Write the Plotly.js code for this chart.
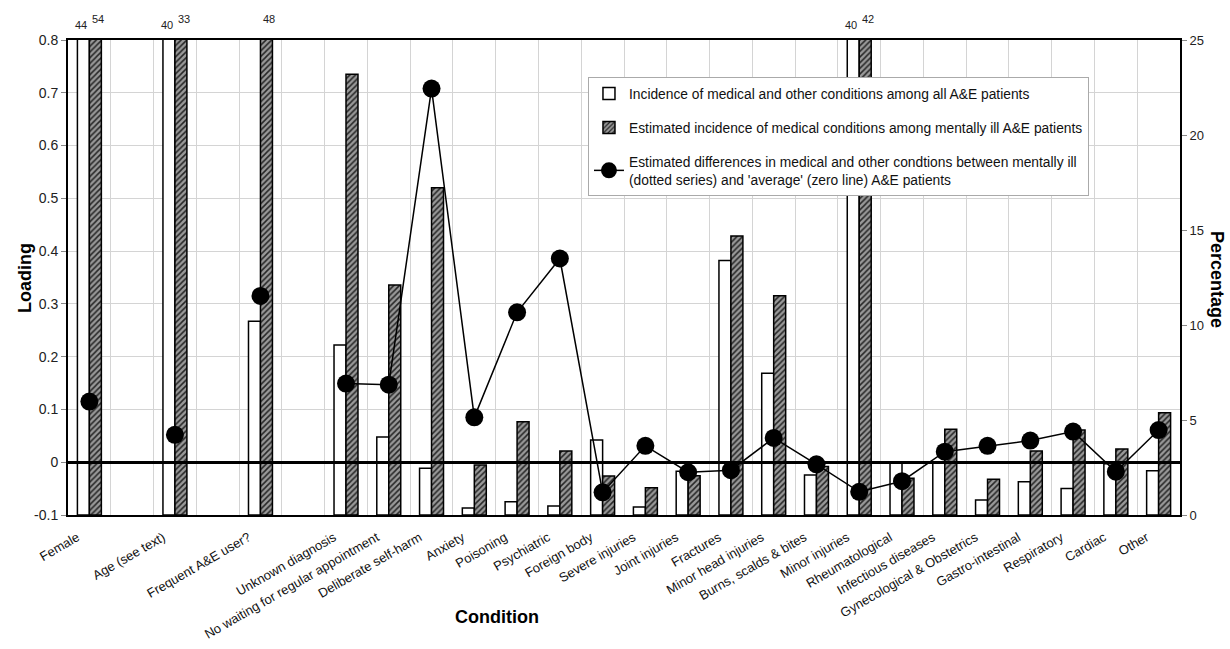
<!DOCTYPE html>
<html>
<head>
<meta charset="utf-8">
<script src="https://cdn.plot.ly/plotly-3.0.1.min.js"></script>
<style>html,body{margin:0;padding:0;background:#fff;}#chart{width:1230px;height:649px;}</style>
</head>
<body>
<div id="chart"></div>
<script>
// Categories (blank slots are empty spacer positions on the axis)
var categories = ["Female", "", "Age (see text)", "", "Frequent A&E user?", "", "Unknown diagnosis",
  "No waiting for regular appointment", "Deliberate self-harm", "Anxiety", "Poisoning", "Psychiatric",
  "Foreign body", "Severe injuries", "Joint injuries", "Fractures", "Minor head injuries",
  "Burns, scalds & bites", "Minor injuries", "Rheumatological", "Infectious diseases",
  "Gynecological & Obstetrics", "Gastro-intestinal", "Respiratory", "Cardiac", "Other"];

// Percentage: incidence among all A&E patients (white bars)
var allPatients = [44, null, 40, null, 10.2, null, 8.95, 4.1, 2.46, 0.37, 0.70, 0.47,
  3.95, 0.42, 2.3, 13.4, 7.46, 2.1, 40, 2.75, 2.8, 0.79, 1.75, 1.4, 2.7, 2.33];

// Percentage: estimated incidence among mentally ill A&E patients (hatched bars)
var mentallyIll = [54, null, 33, null, 48, null, 23.2, 12.1, 17.23, 2.63, 4.91, 3.37,
  2.05, 1.44, 2.07, 14.68, 11.54, 2.55, 42, 1.93, 4.51, 1.88, 3.37, 4.47, 3.47, 5.38];

// Loading: estimated differences (line with markers)
var loading = [0.115, null, 0.052, null, 0.315, null, 0.149, 0.147, 0.708, 0.085, 0.284, 0.386,
  -0.057, 0.031, -0.019, -0.015, 0.046, -0.004, -0.056, -0.036, 0.020, 0.031, 0.041, 0.058, -0.018, 0.061];

var leftTickVals = [-0.1, 0, 0.1, 0.2, 0.3, 0.4, 0.5, 0.6, 0.7, 0.8];
var leftTickText = ["-0.1", "0", "0.1", "0.2", "0.3", "0.4", "0.5", "0.6", "0.7", "0.8"];
var rightTickVals = [0, 5, 10, 15, 20, 25];

var legendNames = [
  "Incidence of medical and other conditions among all A&E patients",
  "Estimated incidence of medical conditions among mentally ill A&E patients",
  "Estimated differences in medical and other condtions between mentally ill<br>(dotted series) and 'average' (zero line) A&E patients"
];

var rightMax = 25;
var FONT = "Liberation Sans, Arial, Helvetica, sans-serif";

var xIdx = categories.map(function (c, i) { return i; });
var tickIdx = [], tickLbl = [];
categories.forEach(function (c, i) { if (c) { tickIdx.push(i); tickLbl.push(c); } });

var traces = [
  {
    type: "bar", name: legendNames[0], x: xIdx, y: allPatients, yaxis: "y", legendgroup: "a",
    marker: { color: "#ffffff", line: { color: "#000", width: 1.5 } }, hoverinfo: "skip"
  },
  {
    type: "bar", name: legendNames[1], x: xIdx, y: mentallyIll, yaxis: "y", legendgroup: "b",
    marker: {
      color: "#8c8c8c", line: { color: "#000", width: 1.5 },
      pattern: { shape: "/", fgcolor: "#262626", bgcolor: "#999999", size: 4, solidity: 0.38 }
    }, hoverinfo: "skip"
  },
  {
    type: "scatter", mode: "lines+markers", name: legendNames[2], x: xIdx, y: loading, yaxis: "y2",
    legendgroup: "c", connectgaps: false,
    line: { color: "#000", width: 1.5 }, marker: { color: "#000", size: 18 }, hoverinfo: "skip"
  }
];

// value labels for bars exceeding the right axis range
var annotations = [];
function addOver(arr, shift, ys) {
  arr.forEach(function (v, i) {
    if (v !== null && v > rightMax) {
      annotations.push({
        x: i, xref: "x", y: 1, yref: "paper", xanchor: "center", yanchor: "bottom",
        yshift: ys, xshift: shift,
        text: String(v), showarrow: false, font: { family: FONT, size: 11, color: "#222" }
      });
    }
  });
}
addOver(allPatients, -8, 7);
addOver(mentallyIll, 9, 13);

annotations.push({
  text: "<b>Loading</b>", xref: "paper", yref: "paper", x: -0.0387, y: 0.499, textangle: -90,
  xanchor: "center", yanchor: "middle",
  showarrow: false, font: { family: FONT, size: 18, color: "#000" }
});
annotations.push({
  text: "<b>Percentage</b>", xref: "paper", yref: "paper", x: 1.0333, y: 0.497, textangle: 90,
  xanchor: "center", yanchor: "middle",
  showarrow: false, font: { family: FONT, size: 18, color: "#000" }
});
annotations.push({
  text: "<b>Condition</b>", xref: "paper", yref: "paper", x: 0.3858, y: -0.2147,
  xanchor: "center", yanchor: "middle",
  showarrow: false, font: { family: FONT, size: 18, color: "#000" }
});

var layout = {
  width: 1230, height: 649,
  margin: { l: 68, r: 50, t: 40, b: 134, pad: 0 },
  paper_bgcolor: "#fff", plot_bgcolor: "#fff",
  font: { family: FONT, color: "#111" },
  barmode: "group", bargap: 0.44, bargroupgap: 0,
  showlegend: true,
  legend: {
    x: 0.4676, y: 0.922, xanchor: "left", yanchor: "top",
    bgcolor: "#fff", bordercolor: "#aaa", borderwidth: 1,
    font: { family: FONT, size: 13.8, color: "#111" },
    traceorder: "grouped", tracegroupgap: 13, itemwidth: 30
  },
  xaxis: {
    type: "linear", range: [-0.5, categories.length - 0.5],
    tickmode: "array", tickvals: tickIdx, ticktext: tickLbl, tickangle: -30,
    tickfont: { family: FONT, size: 13, color: "#111" },
    ticklabelstandoff: 8, ticklabelshift: -12,
    ticks: "", showgrid: false, zeroline: false, automargin: false,
    showline: true, mirror: true, linecolor: "#000", linewidth: 2,
    minor: { tickmode: "linear", tick0: -0.5, dtick: 1, showgrid: true, gridcolor: "#d4d4d4", gridwidth: 1, ticks: "" }
  },
  yaxis: {
    side: "right", range: [0, rightMax], tickmode: "array", tickvals: rightTickVals,
    tickfont: { family: FONT, size: 13, color: "#222" },
    ticks: "outside", ticklen: 5, tickcolor: "#888",
    showgrid: false, zeroline: false, showline: true, linecolor: "#000", linewidth: 2, automargin: false
  },
  yaxis2: {
    overlaying: "y", side: "left", anchor: "x", range: [-0.1, 0.8],
    tickmode: "array", tickvals: leftTickVals, ticktext: leftTickText,
    tickfont: { family: FONT, size: 14, color: "#222" },
    ticks: "outside", ticklen: 5, tickcolor: "#888",
    showgrid: true, gridcolor: "#d4d4d4", gridwidth: 1,
    zeroline: true, zerolinecolor: "#000", zerolinewidth: 3, zerolinelayer: "above traces",
    showline: true, linecolor: "#000", linewidth: 2, automargin: false
  },
  annotations: annotations
};

Plotly.newPlot("chart", traces, layout, { displayModeBar: false, staticPlot: true });
</script>
</body>
</html>
